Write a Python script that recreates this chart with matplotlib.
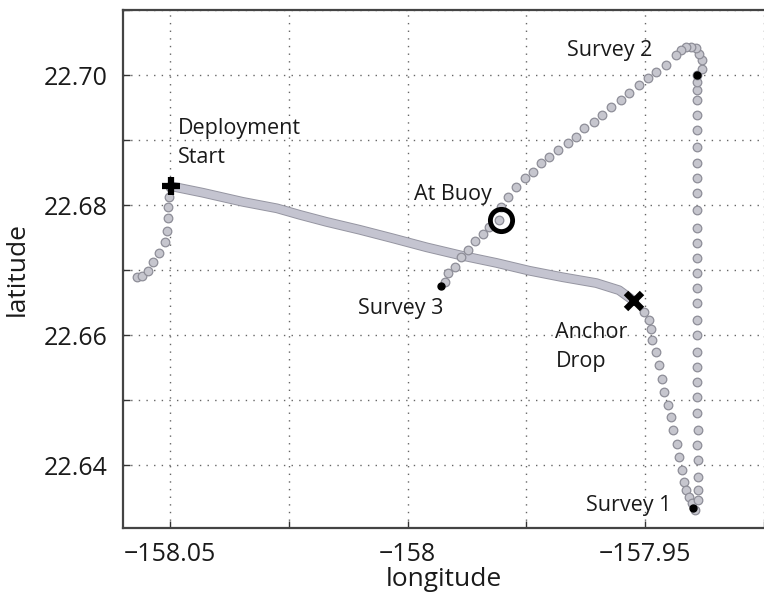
import matplotlib.pyplot as plt
import matplotlib.patheffects as pe

plt.rcParams['font.family'] = ['Open Sans', 'DejaVu Sans']

# track before deployment start (sparse fixes)
pre_lon = [-158.0569, -158.0559, -158.0546, -158.0536, -158.0523, -158.0511,
           -158.0506, -158.0504, -158.0504, -158.0503, -158.0500]
pre_lat = [22.6689, 22.6691, 22.6699, 22.6712, 22.6726, 22.6743,
           22.6760, 22.6780, 22.6797, 22.6812, 22.6828]

# dense transit from deployment start to anchor drop
tow_lon = [-158.0498, -158.0431, -158.0347, -158.0275, -158.0227, -158.0170,
           -158.0101, -158.0032, -157.9960, -157.9885, -157.9813, -157.9744,
           -157.9674, -157.9603, -157.9555, -157.9523]
tow_lat = [22.6829, 22.6819, 22.6805, 22.6795, 22.6785, 22.6774,
           22.6762, 22.6749, 22.6735, 22.6722, 22.6711, 22.6699,
           22.6689, 22.6680, 22.6669, 22.6652]

# drift after anchor drop, down to survey 1
down_lon = [-157.9502, -157.9492, -157.9488, -157.9485, -157.9478, -157.9472,
            -157.9465, -157.9460, -157.9453, -157.9446, -157.9441, -157.9434,
            -157.9429, -157.9423, -157.9418, -157.9415, -157.9408, -157.9401,
            -157.9395]
down_lat = [22.6636, 22.6623, 22.6610, 22.6592, 22.6574, 22.6554,
            22.6533, 22.6513, 22.6492, 22.6474, 22.6454, 22.6433,
            22.6413, 22.6392, 22.6374, 22.6362, 22.6351, 22.6341,
            22.6331]

# back up to survey 2
up_lon = [-157.9389, -157.9388, -157.9388, -157.9388, -157.9390, -157.9388,
          -157.9390, -157.9390, -157.9392, -157.9390, -157.9392, -157.9392,
          -157.9392, -157.9392, -157.9392, -157.9392, -157.9392, -157.9392,
          -157.9392, -157.9392, -157.9392, -157.9392, -157.9392, -157.9392,
          -157.9392, -157.9392, -157.9392, -157.9392, -157.9392, -157.9392]
up_lat = [22.6346, 22.6362, 22.6382, 22.6408, 22.6431, 22.6454,
          22.6480, 22.6505, 22.6528, 22.6551, 22.6574, 22.6600,
          22.6623, 22.6649, 22.6672, 22.6695, 22.6718, 22.6742,
          22.6765, 22.6792, 22.6818, 22.6841, 22.6864, 22.6890,
          22.6915, 22.6938, 22.6962, 22.6977, 22.6990, 22.7000]

# hook and run south-west past the buoy to survey 3
back_lon = [-157.9381, -157.9381, -157.9387, -157.9394, -157.9404, -157.9415,
            -157.9425, -157.9436, -157.9457, -157.9478, -157.9495, -157.9513,
            -157.9534, -157.9551, -157.9572, -157.9590, -157.9607, -157.9628,
            -157.9646, -157.9663, -157.9684, -157.9702, -157.9719, -157.9737,
            -157.9754, -157.9772, -157.9789, -157.9803, -157.9807, -157.9828,
            -157.9842, -157.9859, -157.9873, -157.9887, -157.9901, -157.9915,
            -157.9922]
back_lat = [22.7010, 22.7023, 22.7033, 22.7041, 22.7044, 22.7044,
            22.7038, 22.7031, 22.7015, 22.7005, 22.6995, 22.6985,
            22.6972, 22.6962, 22.6951, 22.6938, 22.6928, 22.6918,
            22.6905, 22.6895, 22.6885, 22.6874, 22.6864, 22.6851,
            22.6841, 22.6828, 22.6813, 22.6797, 22.6777, 22.6767,
            22.6756, 22.6744, 22.6731, 22.6720, 22.6705, 22.6695,
            22.6682]

# events
start = (-158.0498, 22.6829)
anchor = (-157.9523, 22.6652)
buoy = (-157.9803, 22.6777)
survey_lon = [-157.9399, -157.9392, -157.9929]
survey_lat = [22.6334, 22.7000, 22.6675]

labels = ['Deployment\nStart', 'At Buoy', 'Survey 2', 'Survey 3', 'Anchor\nDrop', 'Survey 1']
label_lon = [-158.0483, -157.9987, -157.9664, -158.0105, -157.9689, -157.9624]
label_lat = [22.6896, 22.6816, 22.7038, 22.6641, 22.6582, 22.6338]

xticks = [-158.05, -158.025, -158.0, -157.975, -157.95, -157.925]
xticklabels = ['\u2212158.05', '', '\u2212158', '', '\u2212157.95', '']
yticks = [22.64, 22.65, 22.66, 22.67, 22.68, 22.69, 22.70, 22.71]
yticklabels = ['22.64', '', '22.66', '', '22.68', '', '22.70', '']

fig = plt.figure(figsize=(7.64, 5.96), dpi=100)
ax = fig.add_axes([0.161, 0.114, 0.839, 0.869])

dot_style = dict(linestyle='none', marker='o', markersize=6.2,
                 markerfacecolor='#c6c6ce', markeredgecolor='#8e8e98', markeredgewidth=0.9)
ax.plot(pre_lon, pre_lat, **dot_style, zorder=3)
ax.plot(tow_lon, tow_lat, color='#c4c4d0', linewidth=5.6, solid_capstyle='round', zorder=3,
        path_effects=[pe.Stroke(linewidth=7, foreground='#9595a1'), pe.Normal()])
for lo, la in [(down_lon, down_lat), (up_lon, up_lat), (back_lon, back_lat)]:
    ax.plot(lo, la, **dot_style, zorder=3)

ax.plot(*start, marker='+', markersize=13, markeredgewidth=4.5, color='black', zorder=5)
ax.plot(*anchor, marker='x', markersize=11, markeredgewidth=4.5, color='black', zorder=5)
ax.plot(*buoy, marker='o', markersize=16, markerfacecolor='none',
        markeredgecolor='black', markeredgewidth=3.5, zorder=5)
ax.plot(survey_lon, survey_lat, 'o', color='black', markersize=5, zorder=5)

for txt, lx, ly in zip(labels, label_lon, label_lat):
    ax.text(lx, ly, txt, fontsize=15.5, ha='left', va='center', linespacing=1.5, color='#1a1a1a')

ax.set_xlim(-158.0599, -157.9252)
ax.set_ylim(22.6303, 22.7100)
ax.set_xticks(xticks)
ax.set_xticklabels(xticklabels)
ax.set_yticks(yticks)
ax.set_yticklabels(yticklabels)
ax.tick_params(direction='in', length=5, width=1, labelsize=18, color='#333',
               labelcolor='#1a1a1a', pad=11)
ax.tick_params(axis='x', pad=10)
ax.grid(True, linestyle=(0, (1, 4.5)), color='#666', linewidth=1)
ax.set_axisbelow(True)
for side in ['left', 'bottom', 'top']:
    ax.spines[side].set_linewidth(1.6)
    ax.spines[side].set_color('#444')
ax.spines['right'].set_visible(False)

ax.set_xlabel('longitude', fontsize=19, labelpad=0, color='#1a1a1a')
ax.set_ylabel('latitude', fontsize=19, labelpad=10, color='#1a1a1a')

fig.savefig('out.png', dpi=100)
